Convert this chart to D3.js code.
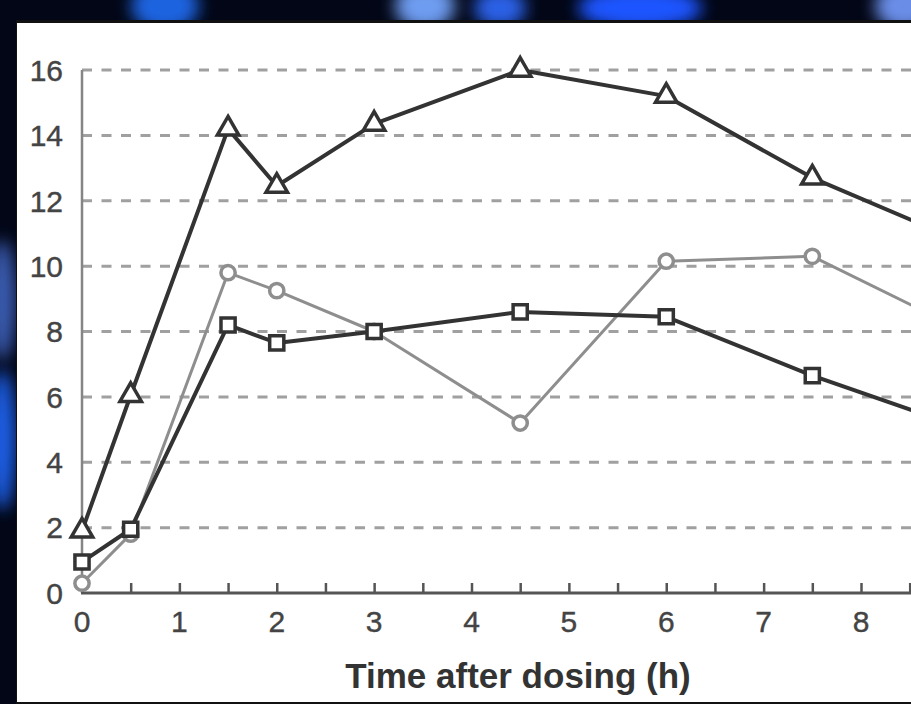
<!DOCTYPE html>
<html>
<head>
<meta charset="utf-8">
<script src="https://cdn.jsdelivr.net/npm/d3@7"></script>
<style>
  body { margin: 0; background: #020616; }
  svg { display: block; }
  text { font-family: "Liberation Sans", Arial, sans-serif; }
</style>
</head>
<body>
<svg width="911" height="704"></svg>
<script>
// data
var times = [0, 0.5, 1.5, 2, 3, 4.5, 6, 7.5, 9];
var triangleVals = [1.9, 6.05, 14.2, 12.45, 14.35, 16.0, 15.2, 12.7, 10.8];
var circleVals = [0.3, 1.8, 9.8, 9.25, 8.0, 5.2, 10.15, 10.3, 8.1];
var squareVals = [0.95, 1.95, 8.2, 7.65, 8.0, 8.6, 8.45, 6.65, 5.1];
var yTicks = [0, 2, 4, 6, 8, 10, 12, 14, 16];
var xTicks = [0, 1, 2, 3, 4, 5, 6, 7, 8];
var xMinorTicks = d3.range(0, 9, 0.5);
var xTitle = "Time after dosing (h)";

var svg = d3.select("svg");

// background glow streaks
var defs = svg.append("defs");
defs.append("filter").attr("id", "blur")
    .attr("filterUnits", "userSpaceOnUse")
    .attr("x", -50).attr("y", -50).attr("width", 1011).attr("height", 804)
    .append("feGaussianBlur").attr("stdDeviation", 8);
defs.append("clipPath").attr("id", "panel")
    .append("rect").attr("x", 17).attr("y", 22).attr("width", 894).attr("height", 680);

var glow = [
  {cx: 165, cy: 6, rx: 34, ry: 26, c: "#1f63e0"},
  {cx: 425, cy: 6, rx: 30, ry: 24, c: "#6e9cf0"},
  {cx: 500, cy: 8, rx: 26, ry: 20, c: "#2c60e6"},
  {cx: 640, cy: 8, rx: 62, ry: 22, c: "#1a55ff"},
  {cx: 905, cy: 6, rx: 30, ry: 24, c: "#6a8ee8"},
  {cx: 2, cy: 300, rx: 14, ry: 60, c: "#3a5bb0"},
  {cx: 2, cy: 440, rx: 14, ry: 70, c: "#1f5ee6"}
];
svg.append("g").attr("filter", "url(#blur)")
   .selectAll("ellipse").data(glow).enter().append("ellipse")
   .attr("cx", function(d) { return d.cx; })
   .attr("cy", function(d) { return d.cy; })
   .attr("rx", function(d) { return d.rx; })
   .attr("ry", function(d) { return d.ry; })
   .attr("fill", function(d) { return d.c; });

// white panel
svg.append("rect").attr("x", 16).attr("y", 20).attr("width", 895).attr("height", 684)
   .attr("fill", "#111");
svg.append("rect").attr("x", 17).attr("y", 23).attr("width", 894).attr("height", 679)
   .attr("fill", "#fff");

var xScale = d3.scaleLinear().domain([0, 8]).range([82, 861]);
var yScale = d3.scaleLinear().domain([0, 16]).range([593, 70]);

var g = svg.append("g").attr("clip-path", "url(#panel)");

// dashed gridlines
g.selectAll(".grid")
 .data(yTicks.filter(function(d) { return d > 0; }))
 .enter().append("line")
 .attr("class", "grid")
 .attr("x1", xScale(0)).attr("x2", 920)
 .attr("y1", function(d) { return yScale(d); })
 .attr("y2", function(d) { return yScale(d); })
 .attr("stroke", "#a0a0a0").attr("stroke-width", 3)
 .attr("stroke-dasharray", "10,9.5");

// y axis
g.append("line")
 .attr("x1", xScale(0)).attr("x2", xScale(0))
 .attr("y1", yScale(16)).attr("y2", yScale(0))
 .attr("stroke", "#858585").attr("stroke-width", 2.5);

g.selectAll(".ylab")
 .data(yTicks).enter().append("text")
 .attr("class", "ylab")
 .attr("x", 63)
 .attr("y", function(d) { return yScale(d); })
 .attr("dy", "0.36em")
 .attr("text-anchor", "end")
 .attr("font-size", 30)
 .attr("fill", "#444")
 .attr("stroke", "#444").attr("stroke-width", 0.4)
 .text(function(d) { return d; });

// x axis with upward ticks
var xAxis = g.append("g")
 .attr("transform", "translate(0," + yScale(0) + ")")
 .call(d3.axisTop(xScale).tickValues(xMinorTicks).tickSize(10).tickFormat(""));
xAxis.select(".domain").remove();
xAxis.selectAll(".tick line").attr("stroke", "#555").attr("stroke-width", 2.5);
g.append("line")
 .attr("x1", xScale(0) - 1).attr("x2", 920)
 .attr("y1", yScale(0)).attr("y2", yScale(0))
 .attr("stroke", "#555").attr("stroke-width", 3);

g.selectAll(".xlab")
 .data(xTicks).enter().append("text")
 .attr("class", "xlab")
 .attr("x", function(d) { return xScale(d); })
 .attr("y", 632)
 .attr("text-anchor", "middle")
 .attr("font-size", 30)
 .attr("fill", "#444")
 .attr("stroke", "#444").attr("stroke-width", 0.4)
 .text(function(d) { return d; });

g.append("text")
 .attr("x", 518).attr("y", 688)
 .attr("text-anchor", "middle")
 .attr("font-size", 35)
 .attr("font-weight", "bold")
 .attr("fill", "#333")
 .text(xTitle);

// series
function pts(vals) {
  return times.map(function(t, i) { return {t: t, v: vals[i]}; });
}
var line = d3.line()
  .x(function(d) { return xScale(d.t); })
  .y(function(d) { return yScale(d.v); });

var series = [
  {vals: circleVals, color: "#8e8e8e", width: 3, shape: d3.symbolCircle, size: 160},
  {vals: squareVals, color: "#333", width: 4, shape: d3.symbolSquare, size: 200},
  {vals: triangleVals, color: "#333", width: 4, shape: d3.symbolTriangle, size: 200}
];

series.forEach(function(s) {
  var data = pts(s.vals);
  g.append("path")
   .datum(data)
   .attr("d", line)
   .attr("fill", "none")
   .attr("stroke", s.color)
   .attr("stroke-width", s.width)
   .attr("stroke-linejoin", "round");

  g.selectAll(null)
   .data(data).enter().append("path")
   .attr("transform", function(d) {
     return "translate(" + xScale(d.t) + "," + yScale(d.v) + ")";
   })
   .attr("d", d3.symbol().type(s.shape).size(s.size))
   .attr("fill", "#fff")
   .attr("stroke", s.color)
   .attr("stroke-width", 3.5);
});
</script>
</body>
</html>
